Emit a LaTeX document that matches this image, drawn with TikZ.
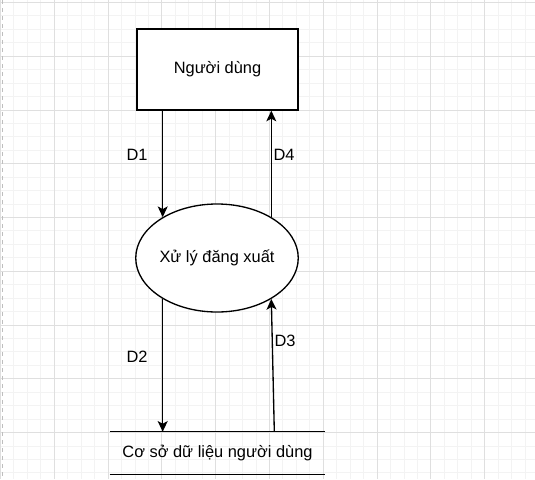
\documentclass[tikz,border=0pt]{standalone}
\usepackage{fontspec}
\setmainfont{Liberation Sans}
\usetikzlibrary{shapes.geometric}
\usetikzlibrary{arrows.meta}
\usetikzlibrary{calc}
\definecolor{gridminor}{RGB}{243,243,243}
\definecolor{gridmajor}{RGB}{223,223,223}
\definecolor{pageedge}{RGB}{190,190,190}
\tikzset{entitybox/.style={draw, line width=1pt, fill=white, minimum width=120.75pt, minimum height=60.75pt, inner sep=0pt},
	processnode/.style={ellipse, draw, line width=1pt, fill=white, minimum width=121.5pt, minimum height=81pt, inner sep=0pt},
	storenode/.style={minimum width=161.25pt, minimum height=31.5pt, inner sep=0pt},
	flow/.style={line width=1pt, -{Stealth[length=8pt,width=7.5pt,inset=2pt]}},
	flowlabel/.style={inner sep=0pt}}

\begin{document}
\begin{tikzpicture}[x=0.75pt, y=-0.75pt, font=\fontsize{12.3}{14}\selectfont]
	\useasboundingbox (0,0) rectangle (535,479);
	\fill[white] (0,0) rectangle (535,479);
	
	% grid
	\begin{scope}
		\clip (0,0) rectangle (535,479);
		\foreach \i in {0,...,40}
			\draw[gridminor, line width=0.75pt] (0.5+13.45*\i,0) -- (0.5+13.45*\i,479);
		\foreach \i in {0,...,36}
			\draw[gridminor, line width=0.75pt] (0,2.5+13.44*\i) -- (535,2.5+13.44*\i);
		\foreach \i in {0,...,10}
			\draw[gridmajor, line width=0.75pt] (0.5+53.8*\i,0) -- (0.5+53.8*\i,479);
		\foreach \i in {0,...,9}
			\draw[gridmajor, line width=0.75pt] (0,2.5+53.75*\i) -- (535,2.5+53.75*\i);
	\end{scope}
	\draw[pageedge, line width=0.75pt, dashed] (2,0) -- (2,479);
	
	% entity, process, store
	\node[entitybox] (user) at (217.5,69.5) {Người dùng};
	\node[processnode] (proc) at (217,258) {Xử lý đăng xuất};
	\node[storenode] (db) at (217.5,453) {Cơ sở dữ liệu người dùng};
	\draw[line width=1pt] (db.north west) -- (db.north east);
	\draw[line width=1pt] (db.south west) -- (db.south east);
	
	% flows
	\draw[flow] (proc.143 |- user.south) -- (proc.143);
	\draw[flow] (proc.37) -- (proc.37 |- user.south);
	\draw[flow] (proc.-143) -- (proc.-143 |- db.north);
	\draw[flow] ([xshift=2.25pt]proc.-37 |- db.north) -- (proc.-37);
	
	% labels
	\node[flowlabel] (lblDone) at (137,155) {D1};
	\node[flowlabel] (lblDfour) at (284,155) {D4};
	\node[flowlabel] (lblDtwo) at (137,357) {D2};
	\node[flowlabel] (lblDthree) at (285,341) {D3};
\end{tikzpicture}
\end{document}
